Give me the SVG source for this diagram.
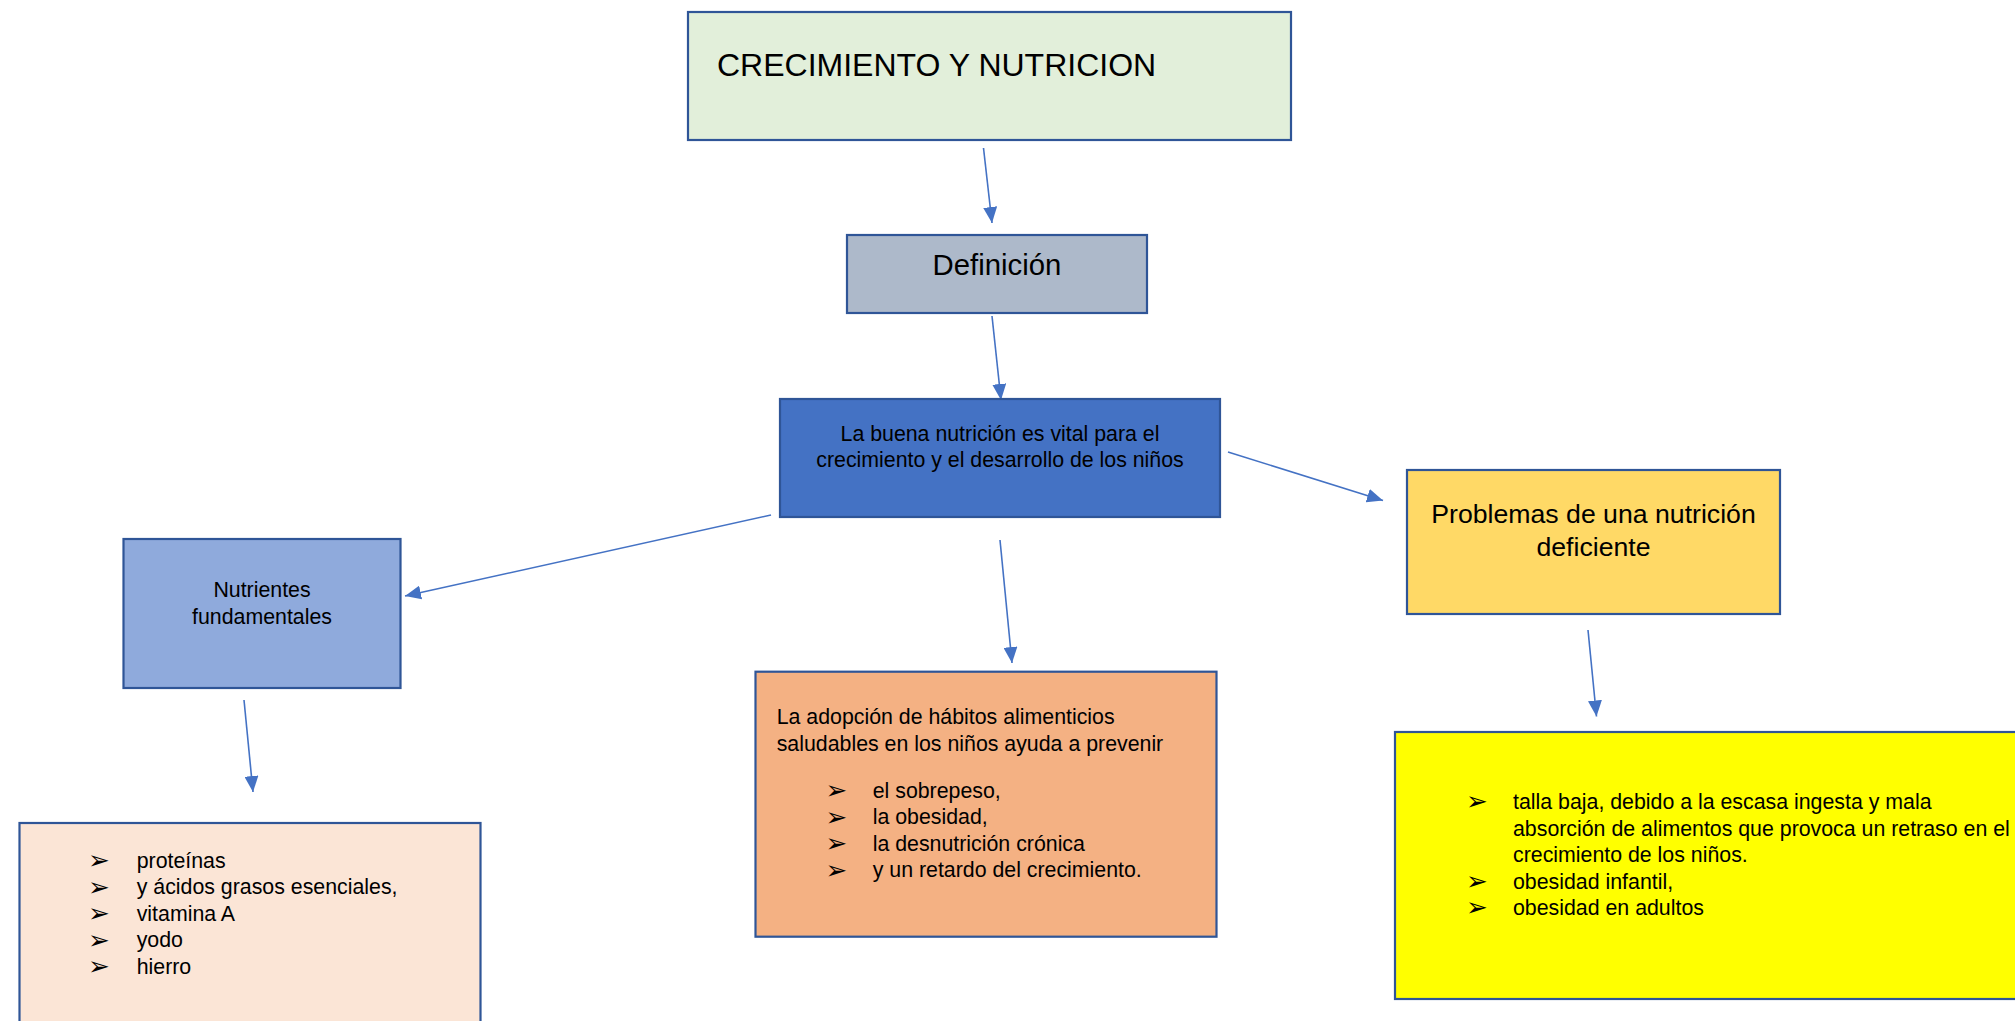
<svg xmlns="http://www.w3.org/2000/svg" width="2015" height="1021" viewBox="0 0 2015 1021">
<style>
  .box { stroke: #2F5597; stroke-width: 2.2; }
  .t { font-family: "Liberation Sans", Arial, sans-serif; fill: #000; font-size: 21.33px; }
  .c { text-anchor: middle; }
  .b { font-family: "DejaVu Sans", sans-serif; font-size: 26px; fill: #000; }
  .conn { stroke: #4472C4; stroke-width: 1.6; fill: none; marker-end: url(#ah); }
</style>
<defs>
  <marker id="ah" viewBox="0 0 16 14" refX="16" refY="7" markerWidth="16" markerHeight="14" markerUnits="userSpaceOnUse" orient="auto">
    <path d="M0,0 L16,7 L0,14 z" fill="#4472C4"/>
  </marker>
</defs>
<rect width="2015" height="1021" fill="#FFFFFF"/>

<g id="connectors">
  <line class="conn" x1="983.5" y1="148" x2="992" y2="223"/>
  <line class="conn" x1="992" y1="316" x2="1001" y2="400"/>
  <line class="conn" x1="771" y1="515" x2="405" y2="596"/>
  <line class="conn" x1="1228" y1="452" x2="1383" y2="500.5"/>
  <line class="conn" x1="1000" y1="540" x2="1012" y2="663"/>
  <line class="conn" x1="244" y1="700" x2="253" y2="792"/>
  <line class="conn" x1="1588" y1="630" x2="1596.5" y2="716.5"/>
</g>

<g id="title">
  <rect class="box" x="688" y="12" width="603" height="128" fill="#E2EFDA"/>
  <text class="t" x="717" y="76" style="font-size:32px">CRECIMIENTO Y NUTRICION</text>
</g>

<g id="definicion">
  <rect class="box" x="847" y="235" width="300" height="78" fill="#ADB9CA"/>
  <text class="t c" x="997" y="275" style="font-size:29.33px">Definición</text>
</g>

<g id="buena-nutricion">
  <rect class="box" x="780" y="399" width="440" height="118" fill="#4472C4"/>
  <text class="t c" x="1000" y="440.7">La buena nutrición es vital para el</text>
  <text class="t c" x="1000" y="467.3">crecimiento y el desarrollo de los niños</text>
</g>

<g id="nutrientes">
  <rect class="box" x="123.5" y="539" width="277" height="149" fill="#8FAADC"/>
  <text class="t c" x="262" y="597">Nutrientes</text>
  <text class="t c" x="262" y="624">fundamentales</text>
</g>

<g id="lista-nutrientes">
  <rect class="box" x="19.5" y="823" width="461" height="220" fill="#FBE5D6"/>
  <text class="b" x="88" y="869">➢</text><text class="t" x="136.7" y="867.7">proteínas</text>
  <text class="b" x="88" y="895.5">➢</text><text class="t" x="136.7" y="894.3">y ácidos grasos esenciales,</text>
  <text class="b" x="88" y="922">➢</text><text class="t" x="136.7" y="920.8">vitamina A</text>
  <text class="b" x="88" y="948.5">➢</text><text class="t" x="136.7" y="947.3">yodo</text>
  <text class="b" x="88" y="975">➢</text><text class="t" x="136.7" y="973.8">hierro</text>
</g>

<g id="habitos">
  <rect class="box" x="755.5" y="671.7" width="461" height="265" fill="#F4B183"/>
  <text class="t" x="776.7" y="724">La adopción de hábitos alimenticios</text>
  <text class="t" x="776.7" y="750.5">saludables en los niños ayuda a prevenir</text>
  <text class="b" x="825.5" y="799">➢</text><text class="t" x="872.7" y="797.7">el sobrepeso,</text>
  <text class="b" x="825.5" y="825.5">➢</text><text class="t" x="872.7" y="824.3">la obesidad,</text>
  <text class="b" x="825.5" y="852">➢</text><text class="t" x="872.7" y="850.8">la desnutrición crónica</text>
  <text class="b" x="825.5" y="878.5">➢</text><text class="t" x="872.7" y="877.3">y un retardo del crecimiento.</text>
</g>

<g id="problemas">
  <rect class="box" x="1407" y="470" width="373" height="144" fill="#FFD966"/>
  <text class="t c" x="1593.5" y="522.7" style="font-size:26.67px">Problemas de una nutrición</text>
  <text class="t c" x="1593.5" y="555.5" style="font-size:26.67px">deficiente</text>
</g>

<g id="consecuencias">
  <rect class="box" x="1395" y="732" width="640" height="267" fill="#FFFF00"/>
  <text class="b" x="1466" y="810">➢</text><text class="t" x="1513" y="809">talla baja, debido a la escasa ingesta y mala</text>
  <text class="t" x="1513" y="835.5">absorción de alimentos que provoca un retraso en el</text>
  <text class="t" x="1513" y="862">crecimiento de los niños.</text>
  <text class="b" x="1466" y="889.5">➢</text><text class="t" x="1513" y="888.5">obesidad infantil,</text>
  <text class="b" x="1466" y="916">➢</text><text class="t" x="1513" y="915">obesidad en adultos</text>
</g>
</svg>
